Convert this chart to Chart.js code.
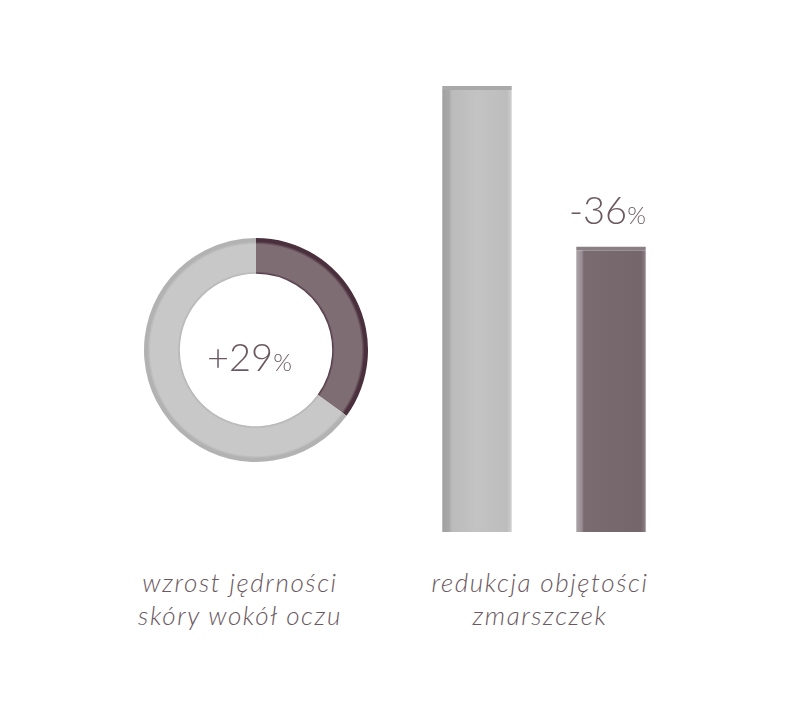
<!DOCTYPE html>
<html>
<head>
<meta charset="utf-8">
<script src="https://cdn.jsdelivr.net/npm/chart.js@4"></script>
<style>
  html, body { margin: 0; padding: 0; background: #fff; }
  #page { position: relative; width: 800px; height: 728px; overflow: hidden; font-family: Lato, "Open Sans", sans-serif; color: #6b5961; }
  #donutBox { position: absolute; left: 144px; top: 238px; width: 224px; height: 224px; }
  #barBox { position: absolute; left: 410px; top: 76px; width: 268px; height: 456px; }
  .big { position: absolute; font-weight: 300; font-size: 38px; line-height: 1; white-space: nowrap; }
  .big small { font-size: 24px; }
  .caption { position: absolute; width: 320px; text-align: center; font-style: italic; font-weight: 300; font-size: 26px; letter-spacing: 1.6px; line-height: 33px; }
</style>
</head>
<body>
<div id="page">
  <div id="donutBox"><canvas id="donut"></canvas></div>
  <div id="barBox"><canvas id="bars"></canvas></div>
  <div class="big" id="donutValue" style="left:207px; top:337px;">+29<small>%</small></div>
  <div class="big" id="barValue" style="left:569px; top:190px;">-36<small>%</small></div>
  <div class="caption" style="left:80px; top:566px;">wzrost jędrności<br>skóry wokół oczu</div>
  <div class="caption" style="left:380px; top:566px;">redukcja objętości<br>zmarszczek</div>
</div>
<script>
// DONUT
const donutLabels = ['wzrost jędrności', 'reszta']
const donutValues = [35, 65]
const donutCutout = 0.68

// BARS
const barLabels = ['przed', 'po']
const barValues = [100, 64]
const barShare = 0.52

function ringGradient(ctx, inner, mid, outer) {
    const chart = ctx.chart
    const area = chart.chartArea
    if (!area) return mid
    const cx = (area.left + area.right) / 2
    const cy = (area.top + area.bottom) / 2
    const r = Math.min(area.right - area.left, area.bottom - area.top) / 2
    const g = chart.ctx.createRadialGradient(cx, cy, r * donutCutout, cx, cy, r)
    g.addColorStop(0, inner)
    g.addColorStop(0.07, mid)
    g.addColorStop(0.82, mid)
    g.addColorStop(0.9, outer)
    g.addColorStop(1, outer)
    return g
}

new Chart(document.getElementById('donut'), {
    type: 'doughnut',
    data: {
        labels: donutLabels,
        datasets: [{
            data: donutValues,
            backgroundColor: function (ctx) {
                if (ctx.dataIndex === 0) return ringGradient(ctx, '#4e3442', '#7f6d74', '#4a2f3c')
                return ringGradient(ctx, '#b3b3b3', '#c8c8c8', '#b2b2b2')
            },
            borderWidth: 0
        }]
    },
    options: {
        responsive: true,
        maintainAspectRatio: false,
        animation: false,
        cutout: (donutCutout * 100) + '%',
        plugins: { legend: { display: false }, tooltip: { enabled: false } }
    }
})

function barGradient(ctx) {
    const chart = ctx.chart
    const light = ctx.dataIndex === 0
    const area = chart.chartArea
    if (!area || !chart.scales.x) return light ? '#bdbdbd' : '#76676d'
    const step = (area.right - area.left) / barLabels.length
    const w = step * barShare
    const x0 = chart.scales.x.getPixelForValue(ctx.dataIndex) - w / 2
    if (!isFinite(x0)) return light ? '#bdbdbd' : '#76676d'
    const g = chart.ctx.createLinearGradient(x0, 0, x0 + w, 0)
    if (light) {
        g.addColorStop(0, '#a0a0a0')
        g.addColorStop(0.1, '#a8a8a8')
        g.addColorStop(0.14, '#bbbbbb')
        g.addColorStop(0.5, '#c3c3c3')
        g.addColorStop(0.93, '#bdbdbd')
        g.addColorStop(1, '#d0d0d0')
    } else {
        g.addColorStop(0, '#aaa3a6')
        g.addColorStop(0.08, '#9a8f94')
        g.addColorStop(0.11, '#7a6b71')
        g.addColorStop(0.93, '#75666c')
        g.addColorStop(1, '#8e8287')
    }
    return g
}

new Chart(document.getElementById('bars'), {
    type: 'bar',
    data: {
        labels: barLabels,
        datasets: [{
            data: barValues,
            backgroundColor: barGradient,
            borderColor: ['#a9a9a9', '#8a7f84'],
            borderWidth: { top: 4, left: 0, right: 0, bottom: 0 },
            borderSkipped: 'bottom',
            barPercentage: barShare,
            categoryPercentage: 1
        }]
    },
    options: {
        responsive: true,
        maintainAspectRatio: false,
        animation: false,
        layout: { padding: { top: 10 } },
        scales: {
            x: { display: false },
            y: { display: false, min: 0, max: 100 }
        },
        plugins: { legend: { display: false }, tooltip: { enabled: false } }
    }
})
</script>
</body>
</html>
